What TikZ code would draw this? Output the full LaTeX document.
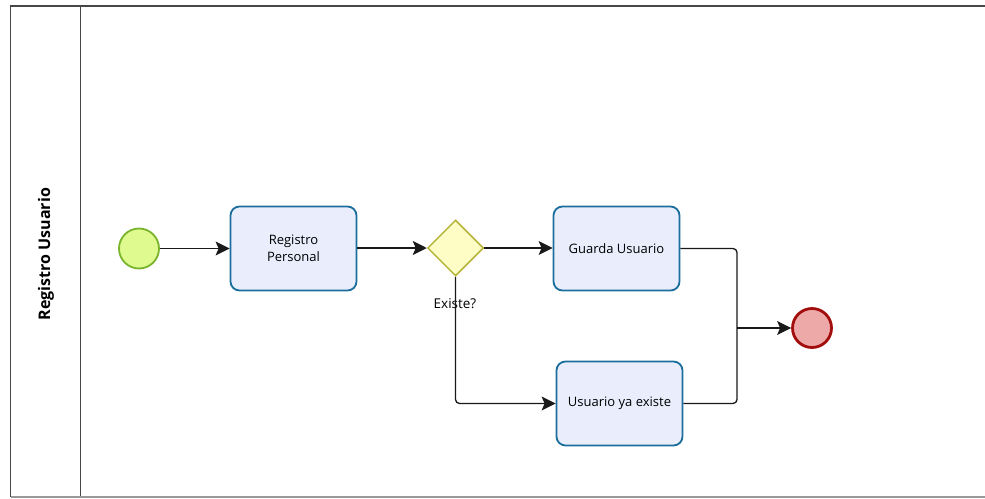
\documentclass[tikz,border=0pt]{standalone}
\usepackage{fontspec}
\setmainfont{Open Sans}
\usetikzlibrary{arrows.meta,shapes.geometric}
\definecolor{taskfill}{HTML}{E9EDFC}
\definecolor{taskline}{HTML}{1C6E9C}
\definecolor{startfill}{HTML}{DFFA8F}
\definecolor{startline}{HTML}{79B42C}
\definecolor{endfill}{HTML}{EDA8A8}
\definecolor{endline}{HTML}{A20E0E}
\definecolor{gatefill}{HTML}{FFFDC6}
\definecolor{gateline}{HTML}{B5B43A}
\definecolor{poolline}{HTML}{474747}
\tikzset{
  task/.style={draw=taskline, fill=taskfill, line width=1.8pt, rounded corners=9pt,
    minimum width=126pt, minimum height=84pt, align=center, inner sep=2pt,
    font=\fontsize{13}{17}\selectfont},
  startev/.style={circle, draw=startline, fill=startfill, line width=1.8pt, minimum size=40pt, inner sep=0pt},
  endev/.style={circle, draw=endline, fill=endfill, line width=2.8pt, minimum size=39pt, inner sep=0pt},
  gateway/.style={diamond, draw=gateline, fill=gatefill, line width=1.5pt, minimum size=56pt, inner sep=0pt},
  flow/.style={draw=black!90, line width=1.3pt, rounded corners=4pt, -{Stealth[length=14pt,width=14pt,inset=3pt]}},
  flowplain/.style={draw=black!90, line width=1.3pt, rounded corners=4pt},
  lbl/.style={font=\fontsize{13.5}{16}\selectfont, inner sep=0pt}
}
\begin{document}
\begin{tikzpicture}[x=1pt,y=-1pt]
\useasboundingbox (0,0) rectangle (985,498);
% pool and lane header
\draw[poolline, line width=1.6pt] (10.5,497) -- (10.5,6) -- (990,6);
\draw[poolline, line width=1.6pt] (80.5,6) -- (80.5,497);
\draw[black!40, line width=1.4pt] (10.5,497) -- (990,497);
\node[rotate=90, font=\bfseries\fontsize{16}{19}\selectfont] (lane) at (46,254) {Registro Usuario};
% flow objects
\node[startev] (start) at (139,248.5) {};
\node[task] (reg) at (293.5,248.5) {Registro\\Personal};
\node[gateway] (gw) at (455.5,248) {};
\node[lbl] (gwlbl) at (455,304) {Existe?};
\node[task] (save) at (616.5,248.5) {Guarda Usuario};
\node[task] (exists) at (619.5,403.5) {Usuario ya existe};
\node[endev] (end) at (812,328) {};
\coordinate (merge) at (737,328);
% sequence flows
\draw[flow] (start.east) -- (reg.west);
\draw[flow] (reg.east |- gw.west) -- (gw.west);
\draw[flow] (gw.east) -- (save.west |- gw.east);
\draw[flow] (gw.south) |- (exists.west);
\draw[flowplain] (save.east) -| (merge);
\draw[flowplain] (exists.east) -| (merge);
\draw[flow] (merge) -- (end);
\end{tikzpicture}
\end{document}
